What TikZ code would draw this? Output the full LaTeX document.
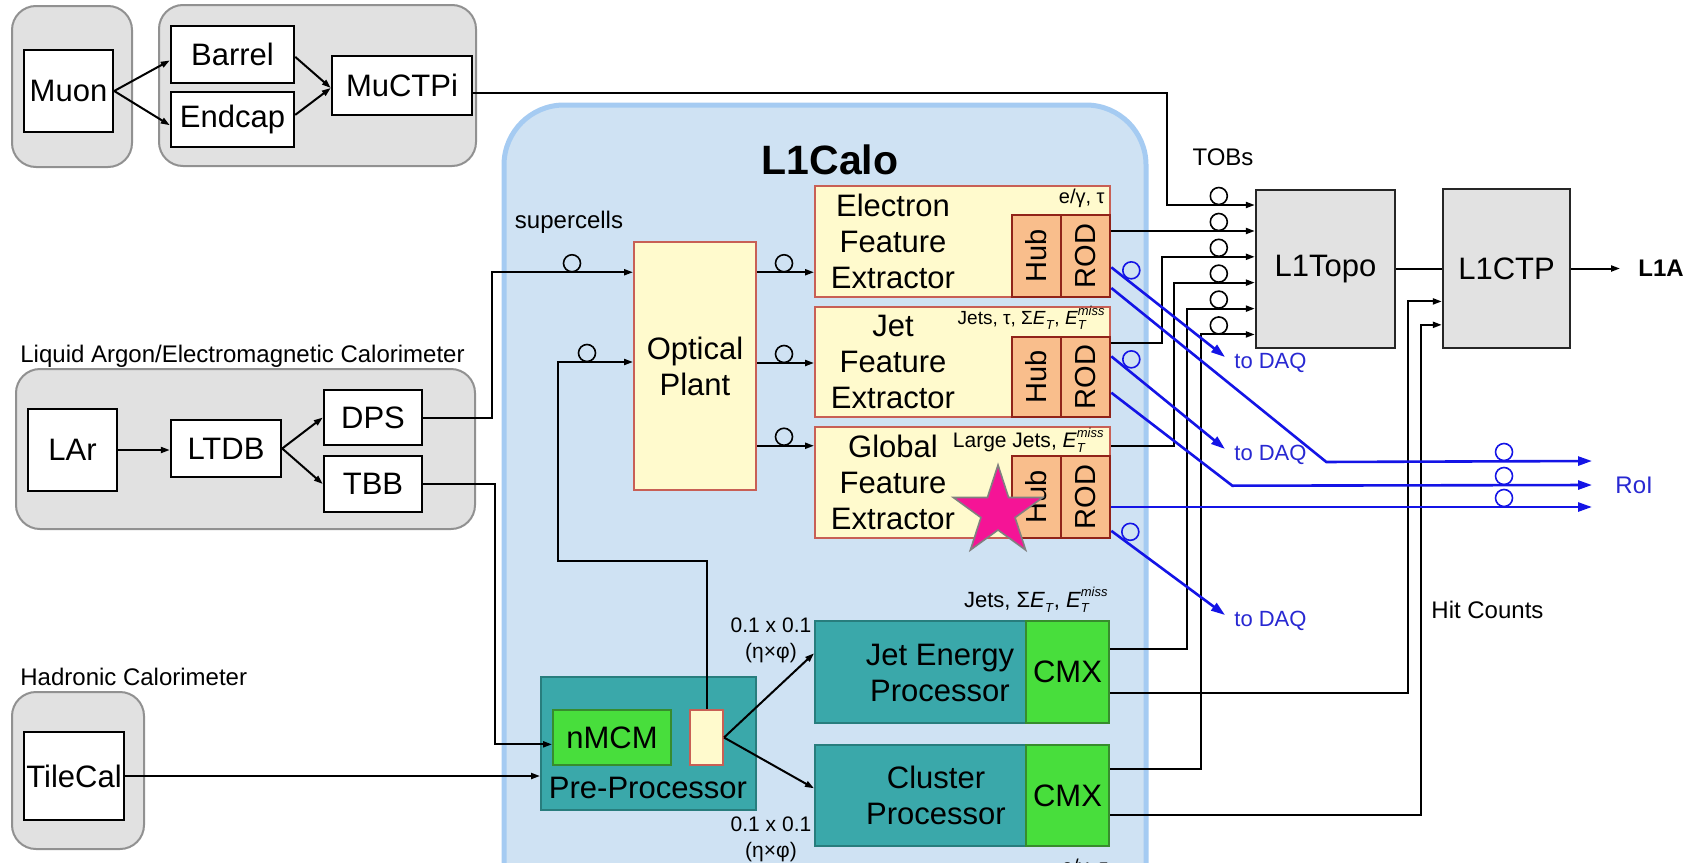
\documentclass[tikz,border=0pt]{standalone}
\usepackage{fontspec}
\setmainfont{Liberation Sans}
\usepackage{graphicx}
\usetikzlibrary{arrows.meta,calc,shapes.geometric}

\definecolor{grpfill}{RGB}{225,225,225}
\definecolor{grpdraw}{RGB}{145,145,145}
\definecolor{calofill}{RGB}{207,226,243}
\definecolor{calodraw}{RGB}{165,203,242}
\definecolor{yelfill}{RGB}{255,250,205}
\definecolor{yeldraw}{RGB}{200,95,85}
\definecolor{orfill}{RGB}{249,190,140}
\definecolor{ordraw}{RGB}{145,35,25}
\definecolor{tealfill}{RGB}{58,168,170}
\definecolor{tealdraw}{RGB}{40,125,125}
\definecolor{grnfill}{RGB}{72,222,60}
\definecolor{grndraw}{RGB}{55,140,45}
\definecolor{topofill}{RGB}{226,226,226}
\definecolor{bline}{RGB}{20,20,230}
\definecolor{btext}{RGB}{40,40,210}
\definecolor{starpink}{RGB}{245,20,150}

\newcommand\mybox[7]{\node[#1, minimum width={(#5-#3)*0.5pt}, minimum height={(#6-#4)*0.5pt}] (#2) at ({(#3+#5)/2},{(#4+#6)/2}) {#7};}
\newcommand\myET{\textit{E}\raisebox{-0.45ex}{\fontsize{6.5}{7}\selectfont\textit{T}}}
\newcommand\myETm{\textit{E}\rlap{\raisebox{-0.45ex}{\fontsize{6.5}{7}\selectfont\textit{T}}}\raisebox{0.9ex}{\fontsize{6.5}{7}\selectfont\textit{miss}}}

\tikzset{
 every node/.style={inner sep=0pt},
 bigf/.style={font=\fontsize{15.5}{18}\selectfont},
 lbl/.style={font=\fontsize{12}{14}\selectfont},
 grp/.style={draw=grpdraw, fill=grpfill, line width=1pt, rounded corners=12pt},
 wbox/.style={draw=black, fill=white, line width=1.2pt, bigf},
 ybox/.style={draw=yeldraw, fill=yelfill, line width=1pt},
 obox/.style={draw=ordraw, fill=orfill, line width=1.3pt, font=\fontsize{14.5}{16}\selectfont},
 tbox/.style={draw=tealdraw, fill=tealfill, line width=1pt},
 gbox/.style={draw=grndraw, fill=grnfill, line width=1pt, bigf},
 topo/.style={draw=black!85, fill=topofill, line width=1.2pt, bigf},
 ring/.style={circle, draw=black, line width=0.8pt, minimum size=8.5pt},
 bring/.style={ring, draw=bline},
 conn/.style={line width=1pt, draw=black},
 arr/.style={conn, -{Triangle[length=4.5pt,width=3pt]}},
 barr/.style={line width=1.3pt, draw=bline, -{Triangle[length=7pt,width=4.5pt]}},
 btxt/.style={text=btext, font=\fontsize{11}{13}\selectfont},
}

\begin{document}
\begin{tikzpicture}[x=0.5pt,y=-0.5pt]
\useasboundingbox (0,0) rectangle (1700,862);
\clip (0,0) rectangle (1700,862);
\fill[white] (0,0) rectangle (1700,862);

% groups
\mybox{grp}{gmuon}{12}{6}{132}{167}{}
\mybox{grp}{gbar}{159}{5}{476}{166}{}
\mybox{grp}{glar}{16}{369}{475}{529}{}
\mybox{grp}{gtile}{12}{692}{144}{849}{}
\mybox{draw=calodraw, fill=calofill, line width=2.5pt, rounded corners=30pt}{l1calo}{504}{105}{1146}{940}{}
\node[font=\fontsize{20.5}{24}\selectfont\bfseries] (title) at (830,160) {L1Calo};

% white boxes
\mybox{wbox}{muon}{24}{50}{113}{132}{Muon}
\mybox{wbox}{barrel}{171}{26}{294}{83}{Barrel}
\mybox{wbox}{endcap}{171}{92}{294}{147}{Endcap}
\mybox{wbox}{muctpi}{332}{56}{472}{115}{MuCTPi}
\mybox{wbox}{lar}{28}{409}{117}{491}{LAr}
\mybox{wbox}{ltdb}{171}{420}{281}{477}{LTDB}
\mybox{wbox}{dps}{324}{390}{422}{445}{DPS}
\mybox{wbox}{tbb}{324}{456}{422}{512}{TBB}
\mybox{wbox}{tilecal}{24}{732}{124}{820}{TileCal}

% L1Calo content
\mybox{ybox,bigf,align=center}{optical}{634}{242}{756}{490}{Optical\\Plant}
\mybox{ybox}{efex}{815}{186}{1110}{297}{}
\mybox{ybox}{jfex}{815}{307}{1110}{417}{}
\mybox{ybox}{gfex}{815}{427}{1110}{538}{}
\mybox{obox}{efexhub}{1012}{215}{1061}{297}{\rotatebox{90}{Hub}}
\mybox{obox}{efexrod}{1061}{215}{1110}{297}{\rotatebox{90}{ROD}}
\mybox{obox}{jfexhub}{1012}{337}{1061}{417}{\rotatebox{90}{Hub}}
\mybox{obox}{jfexrod}{1061}{337}{1110}{417}{\rotatebox{90}{ROD}}
\mybox{obox}{gfexhub}{1012}{456}{1061}{538}{\rotatebox{90}{Hub}}
\mybox{obox}{gfexrod}{1061}{456}{1110}{538}{\rotatebox{90}{ROD}}
\node[bigf,align=center] (efexl) at (893,241) {Electron\\Feature\\Extractor};
\node[bigf,align=center] (jfexl) at (893,362) {Jet\\Feature\\Extractor};
\node[bigf,align=center] (gfexl) at (893,482) {Global\\Feature\\Extractor};
\node[font=\fontsize{10}{12}\selectfont, anchor=east] (efext) at (1105,198) {e/γ, τ};
\node[font=\fontsize{9.5}{11}\selectfont, anchor=east] (jfext) at (1105,318) {Jets, τ, Σ\myET, \myETm};
\node[font=\fontsize{10.5}{12}\selectfont, anchor=east] (gfext) at (1104,440) {Large Jets, \myETm};

\mybox{tbox}{pp}{541}{677}{756}{810}{}
\mybox{gbox}{nmcm}{553}{710}{671}{765}{nMCM}
\mybox{ybox}{ppyel}{690}{710}{723}{765}{}
\node[bigf] (ppl) at (648,788) {Pre-Processor};
\mybox{tbox}{jep}{815}{621}{1109}{723}{}
\mybox{gbox}{jcmx}{1026}{621}{1109}{723}{CMX}
\node[bigf,align=center] (jepl) at (940,673) {Jet Energy\\Processor};
\mybox{tbox}{cp}{815}{745}{1109}{846}{}
\mybox{gbox}{ccmx}{1026}{745}{1109}{846}{CMX}
\node[bigf,align=center] (cpl) at (936,795) {Cluster\\Processor};
\node[font=\fontsize{11}{12}\selectfont, anchor=east] (jept) at (1108,600) {Jets, Σ\myET, \myETm};
\node[font=\fontsize{10}{12}\selectfont, anchor=east] (ebot) at (1108,868) {e/γ, τ};
\node[font=\fontsize{10.5}{13}\selectfont, align=center] (gr1) at (771,640) {0.1 x 0.1\\(η×φ)};
\node[font=\fontsize{10.5}{13}\selectfont, align=center] (gr2) at (771,839) {0.1 x 0.1\\(η×φ)};

% right side
\mybox{topo}{l1topo}{1256}{190}{1395}{348}{L1Topo}
\mybox{topo}{l1ctp}{1443}{189}{1570}{348}{L1CTP}
\node[font=\fontsize{12}{14}\selectfont\bfseries, anchor=west] (l1a) at (1638,268.5) {L1A};

% labels
\node[lbl] (tobs) at (1223,157) {TOBs};
\node[lbl] (sc) at (569,222) {supercells};
\node[lbl, anchor=west] (hit) at (1431,610) {Hit Counts};
\node[lbl, anchor=west] (larlbl) at (20,356) {Liquid Argon/Electromagnetic Calorimeter};
\node[lbl, anchor=west] (hadlbl) at (20,677) {Hadronic Calorimeter};
\node[btxt, anchor=west] (daq1) at (1234,363) {to DAQ};
\node[btxt, anchor=west] (daq2) at (1234,455) {to DAQ};
\node[btxt, anchor=west] (daq3) at (1234,621) {to DAQ};
\node[btxt, font=\fontsize{12}{14}\selectfont, anchor=west] (roi) at (1615,485) {RoI};

% ports
\coordinate (tin1) at ($(l1topo.north west)!0.101!(l1topo.south west)$);
\coordinate (tin2) at ($(l1topo.north west)!0.263!(l1topo.south west)$);
\coordinate (tin3) at ($(l1topo.north west)!0.424!(l1topo.south west)$);
\coordinate (tin4) at ($(l1topo.north west)!0.585!(l1topo.south west)$);
\coordinate (tin5) at ($(l1topo.north west)!0.747!(l1topo.south west)$);
\coordinate (tin6) at ($(l1topo.north west)!0.908!(l1topo.south west)$);
\coordinate (cin1) at ($(l1ctp.north west)!0.704!(l1ctp.south west)$);
\coordinate (cin2) at ($(l1ctp.north west)!0.849!(l1ctp.south west)$);
\coordinate (optin1) at ($(optical.north west)!0.125!(optical.south west)$);
\coordinate (optin2) at ($(optical.north west)!0.484!(optical.south west)$);
\coordinate (optout1) at ($(optical.north east)!0.125!(optical.south east)$);
\coordinate (optout2) at ($(optical.north east)!0.488!(optical.south east)$);
\coordinate (optout3) at ($(optical.north east)!0.819!(optical.south east)$);
\coordinate (nmcmin) at ($(nmcm.north west)!0.62!(nmcm.south west)$);
\coordinate (r1) at ([xshift=-11.5pt,yshift=12pt]roi.west);
\coordinate (r2) at ([xshift=-11.5pt]roi.west);
\coordinate (r3) at ([xshift=-11.5pt,yshift=-11pt]roi.west);
\coordinate (e1) at ($(efexrod.north east)!0.634!(efexrod.south east)$);
\coordinate (e2) at ($(efexrod.north east)!0.878!(efexrod.south east)$);
\coordinate (j1) at ($(jfexrod.north east)!0.25!(jfexrod.south east)$);
\coordinate (j2) at ($(jfexrod.north east)!0.69!(jfexrod.south east)$);
\coordinate (g2) at ($(gfexrod.north east)!0.90!(gfexrod.south east)$);

% muon connectors
\draw[arr] (muon.east) -- ($(barrel.north west)!0.6!(barrel.south west)$);
\draw[arr] (muon.east) -- ($(endcap.north west)!0.6!(endcap.south west)$);
\draw[arr] ($(barrel.north east)!0.54!(barrel.south east)$) -- ($(muctpi.north west)!0.54!(muctpi.south west)$);
\draw[arr] ($(endcap.north east)!0.42!(endcap.south east)$) -- ($(muctpi.north west)!0.54!(muctpi.south west)$);
\draw[arr] ($(muctpi.north east)!0.63!(muctpi.south east)$) -- ++(694,0) |- (tin1);

% LAr connectors
\draw[arr] (lar.east) -- (lar.east -| ltdb.west);
\draw[arr] (ltdb.east) -- (dps.west);
\draw[arr] (ltdb.east) -- (tbb.west);
\draw[arr] (dps.east) -- ++(69,0) |- (optin1);
\draw[arr] (tbb.east) -- ++(72,0) |- (nmcmin);
\draw[arr] (tilecal.east) -- (tilecal.east -| pp.west);

% L1Calo internal
\draw[arr] (ppyel.north) -- ++(0,-148) -- ++(-149,0) |- (optin2);
\draw[arr] (optout1) -- (optout1 -| efex.west);
\draw[arr] (optout2) -- (optout2 -| jfex.west);
\draw[arr] (optout3) -- (optout3 -| gfex.west);
\draw[arr] (ppyel.east) -- ($(jep.north west)!0.32!(jep.south west)$);
\draw[arr] (ppyel.east) -- ($(cp.north west)!0.43!(cp.south west)$);

% to L1Topo / L1CTP
\draw[arr] (efexrod.east |- tin2) -- (tin2);
\draw[arr] ($(jfexrod.north east)!0.09!(jfexrod.south east)$) -- ++(51,0) |- (tin3);
\draw[arr] ($(gfex.north east)!0.18!(gfex.south east)$) -- ++(63,0) |- (tin4);
\draw[arr] ($(jcmx.north east)!0.275!(jcmx.south east)$) -- ++(77,0) |- (tin5);
\draw[arr] ($(ccmx.north east)!0.24!(ccmx.south east)$) -- ++(91,0) |- (tin6);
\draw[arr] ($(jcmx.north east)!0.706!(jcmx.south east)$) -- ++(298,0) |- (cin1);
\draw[arr] ($(ccmx.north east)!0.69!(ccmx.south east)$) -- ++(311,0) |- (cin2);
\draw[conn] (l1topo.east) -- (l1topo.east -| l1ctp.west);
\draw[arr] (l1ctp.east) -- ([xshift=-9pt]l1a.west);

% blue readout
\draw[barr] (e1) -- ($(daq1.west)+(-9,-6)$);
\draw[barr] (e2) -- ++(215,174) -- (r1);
\draw[barr] (j1) -- ($(daq2.west)+(-9,-6)$);
\draw[barr] (j2) -- ++(121,93) -- (r2);
\draw[barr] (gfexrod.east |- r3) -- (r3);
\draw[barr] (g2) -- ($(daq3.west)+(-9,-6)$);

% fibre rings
\foreach \i in {1,...,6} {\node[ring] (tc\i) at ($(tin\i)+(-36,-9)$) {};}
\node[ring] (sc1) at ($(optin1)+(-61,-9)$) {};
\node[ring] (sc2) at ($(optin2)+(-46,-9)$) {};
\node[ring] (oc1) at ($(optout1)+(27,-9)$) {};
\node[ring] (oc2) at ($(optout2)+(27,-9)$) {};
\node[ring] (oc3) at ($(optout3)+(27,-9)$) {};
\node[bring] (bc1) at ($(e1)+(20,3)$) {};
\node[bring] (bc2) at ($(j1)+(20,3)$) {};
\node[bring] (bc3) at ($(g2)+(19,1)$) {};
\node[bring] (rc1) at ($(r1)+(-88,-9)$) {};
\node[bring] (rc2) at ($(r2)+(-88,-9)$) {};
\node[bring] (rc3) at ($(r3)+(-88,-9)$) {};

% star
\node[star, star points=5, star point ratio=2.618, minimum size=47pt, fill=starpink, draw=gray, line width=0.8pt] (star) at (998,512) {};
\end{tikzpicture}
\end{document}
